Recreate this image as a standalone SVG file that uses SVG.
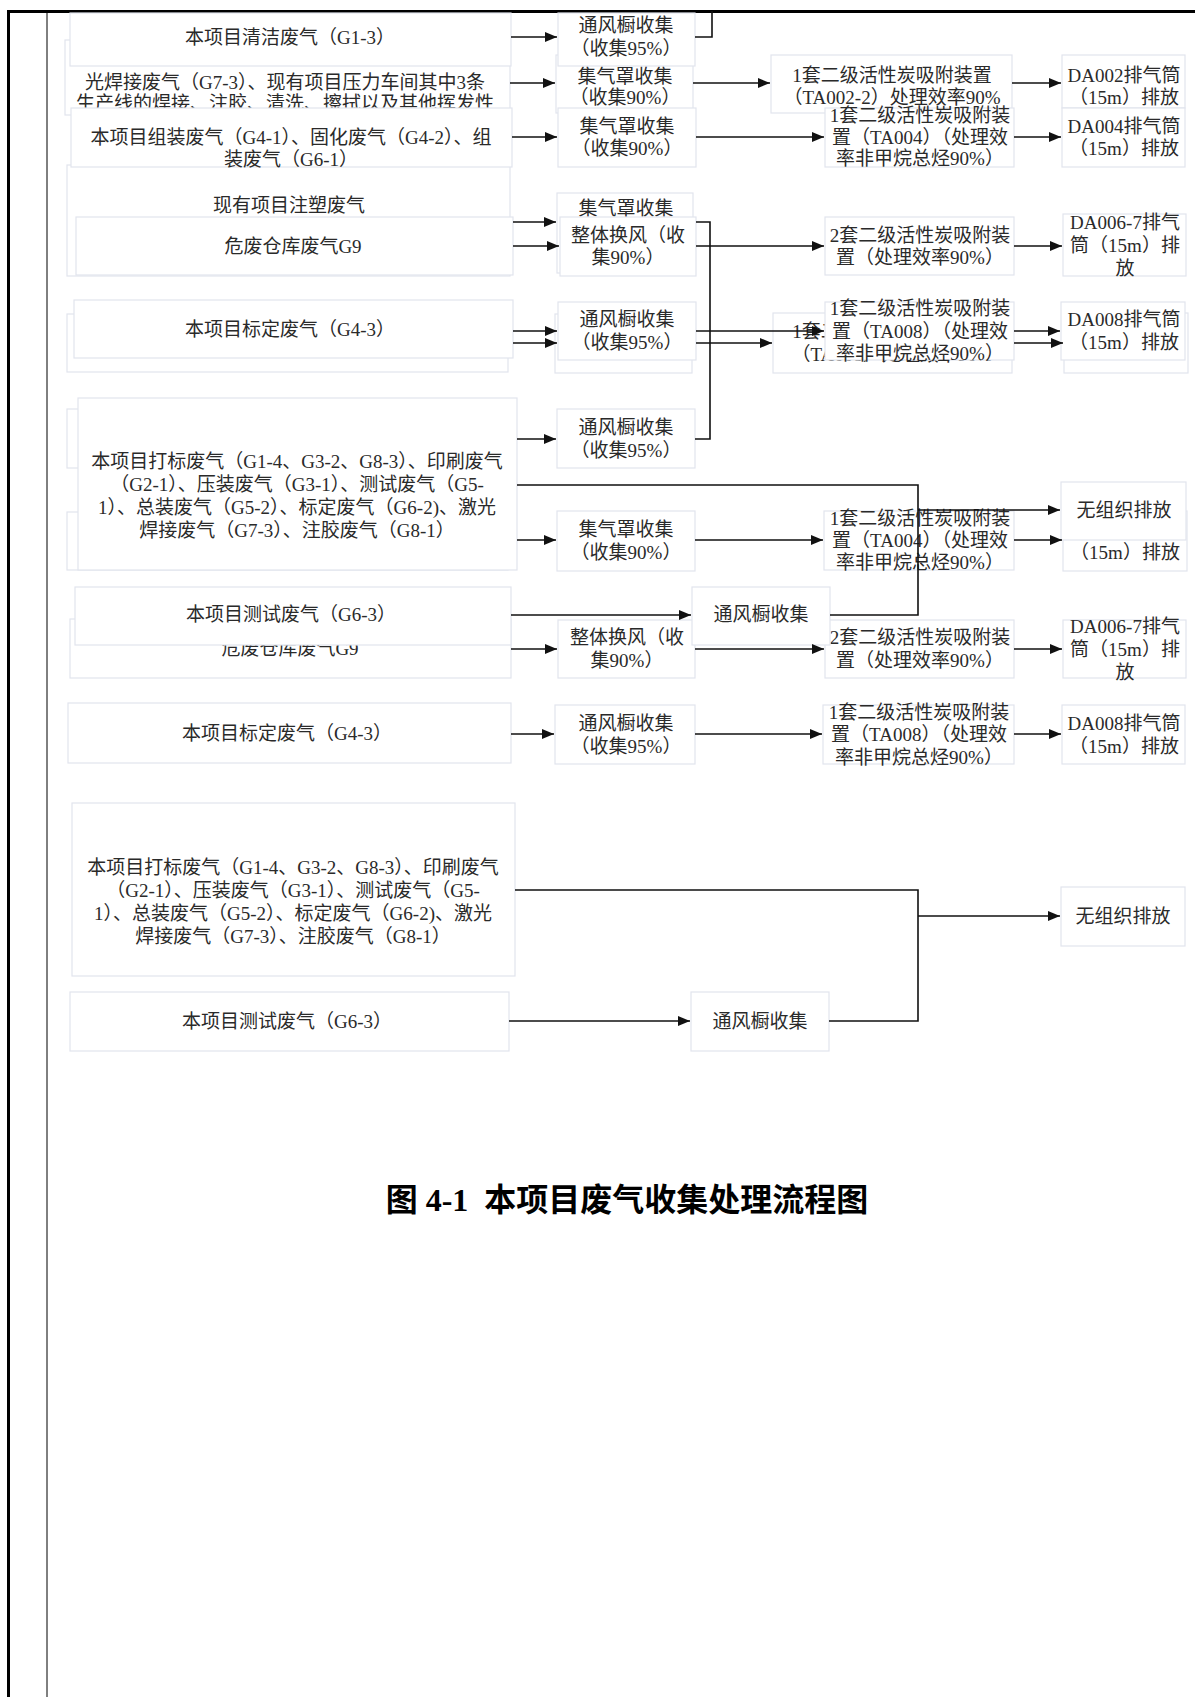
<svg xmlns="http://www.w3.org/2000/svg" width="1195" height="1697" viewBox="0 0 1195 1697">
<style>
.box{fill:#fff;stroke:#e2e4ed;stroke-width:1.2}
.t{font-family:"Liberation Serif","Noto Sans CJK SC",serif;font-size:19px;fill:#2a2a2a;text-anchor:middle;dominant-baseline:central}
.c{fill:none;stroke:#111;stroke-width:1.6}
.a{marker-end:url(#ah)}
.frame{stroke:#000;fill:none}
.title{font-family:"Liberation Serif","Noto Sans CJK SC",serif;font-size:32px;font-weight:bold;fill:#000;text-anchor:middle}
</style>
<defs>
<marker id="ah" viewBox="0 0 12 10" refX="12" refY="5" markerWidth="12" markerHeight="10" markerUnits="userSpaceOnUse" orient="auto"><path d="M0,0 L12,5 L0,10 z" fill="#111"/></marker>
</defs>
<rect width="1195" height="1697" fill="#fff"/>
<g id="frame">
<line class="frame" x1="8.5" y1="10" x2="8.5" y2="1697" stroke-width="3"/>
<line class="frame" x1="7" y1="11.5" x2="1195" y2="11.5" stroke-width="3"/>
<line class="frame" x1="47" y1="11" x2="47" y2="1697" stroke-width="1"/>
</g>

<!-- row 2 (behind) -->
<g id="n_r2_src"><rect class="box" x="65" y="40" width="445" height="75"/><text class="t"><tspan x="285" y="82">光焊接废气（G7-3）、现有项目压力车间其中3条</tspan><tspan x="285" y="103">生产线的焊接、注胶、清洗、擦拭以及其他挥发性</tspan></text></g>
<g id="n_r2_col"><rect class="box" x="556" y="55" width="137" height="58"/><text class="t"><tspan x="625" y="76">集气罩收集</tspan><tspan x="625" y="97">（收集90%）</tspan></text></g>
<g id="n_r2_trt"><rect class="box" x="771" y="55" width="241" height="58"/><text class="t"><tspan x="892" y="75">1套二级活性炭吸附装置</tspan><tspan x="892" y="97">（TA002-2）处理效率90%</tspan></text></g>
<g id="n_r2_out"><rect class="box" x="1062" y="55" width="123" height="53"/><text class="t"><tspan x="1124" y="75">DA002排气筒</tspan><tspan x="1124" y="97">（15m）排放</tspan></text></g>

<!-- row 1 -->
<g id="n_r1_src"><rect class="box" x="70" y="13" width="441" height="53"/><text class="t" x="290" y="37">本项目清洁废气（G1-3）</text></g>
<g id="n_r1_col"><rect class="box" x="558" y="13" width="137" height="53"/><text class="t"><tspan x="626" y="25">通风橱收集</tspan><tspan x="626" y="48">（收集95%）</tspan></text></g>

<!-- row 3 -->
<g id="n_r4_src_back"><rect class="box" x="67" y="165" width="443" height="111"/><text class="t" x="289" y="205">现有项目注塑废气</text></g>
<g id="n_r3_src"><rect class="box" x="71" y="108" width="441" height="59"/><text class="t"><tspan x="291" y="137">本项目组装废气（G4-1）、固化废气（G4-2）、组</tspan><tspan x="291" y="159">装废气（G6-1）</tspan></text></g>
<g id="n_r3_col"><rect class="box" x="558" y="108" width="138" height="59"/><text class="t"><tspan x="627" y="126">集气罩收集</tspan><tspan x="627" y="148">（收集90%）</tspan></text></g>
<g id="n_r3_trt"><rect class="box" x="825" y="108" width="189" height="59"/><text class="t"><tspan x="920" y="115">1套二级活性炭吸附装</tspan><tspan x="920" y="137">置（TA004）（处理效</tspan><tspan x="920" y="158">率非甲烷总烃90%）</tspan></text></g>
<g id="n_r3_out"><rect class="box" x="1062" y="108" width="123" height="59"/><text class="t"><tspan x="1124" y="126">DA004排气筒</tspan><tspan x="1124" y="148">（15m）排放</tspan></text></g>

<!-- row 4 -->
<g id="n_r4_col_back"><rect class="box" x="557" y="193" width="136" height="80"/><text class="t" x="626" y="208">集气罩收集</text></g>
<g id="n_r4_src"><rect class="box" x="76" y="217" width="437" height="58"/><text class="t" x="293" y="246">危废仓库废气G9</text></g>
<g id="n_r4_col"><rect class="box" x="560" y="217" width="136" height="59"/><text class="t"><tspan x="628" y="235">整体换风（收</tspan><tspan x="628" y="257">集90%）</tspan></text></g>
<g id="n_r4_trt"><rect class="box" x="825" y="217" width="189" height="58"/><text class="t"><tspan x="920" y="235">2套二级活性炭吸附装</tspan><tspan x="920" y="257">置（处理效率90%）</tspan></text></g>
<g id="n_r4_out"><rect class="box" x="1063" y="214" width="123" height="62"/><text class="t"><tspan x="1125" y="222">DA006-7排气</tspan><tspan x="1125" y="245">筒（15m）排</tspan><tspan x="1125" y="268">放</tspan></text></g>

<!-- row 5 -->
<g id="n_r5_src_back"><rect class="box" x="67" y="314" width="441" height="58"/></g>
<g id="n_r5_col_back"><rect class="box" x="555" y="314" width="137" height="59"/></g>
<g id="n_r5_trt_back"><rect class="box" x="773" y="313" width="239" height="60"/><text class="t"><tspan x="892" y="331">1套二级活性炭吸附装置</tspan><tspan x="892" y="354">（TA008）处理效率90%</tspan></text></g>
<g id="n_r5_out_back"><rect class="box" x="1064" y="313" width="124" height="60"/></g>
<g id="n_r5_src"><rect class="box" x="74" y="300" width="439" height="58"/><text class="t" x="290" y="329">本项目标定废气（G4-3）</text></g>
<g id="n_r5_col"><rect class="box" x="558" y="302" width="138" height="58"/><text class="t"><tspan x="627" y="319">通风橱收集</tspan><tspan x="627" y="342">（收集95%）</tspan></text></g>
<g id="n_r5_trt"><rect class="box" x="825" y="302" width="189" height="58"/><text class="t"><tspan x="920" y="308">1套二级活性炭吸附装</tspan><tspan x="920" y="331">置（TA008）（处理效</tspan><tspan x="920" y="353">率非甲烷总烃90%）</tspan></text></g>
<g id="n_r5_out"><rect class="box" x="1061" y="302" width="124" height="58"/><text class="t"><tspan x="1124" y="319">DA008排气筒</tspan><tspan x="1124" y="342">（15m）排放</tspan></text></g>

<!-- row 6 -->
<g id="n_r6_src_back1"><rect class="box" x="67" y="409" width="441" height="59"/></g>
<g id="n_r6_src_back2"><rect class="box" x="67" y="512" width="441" height="58"/></g>
<g id="n_r6_out_back"><rect class="box" x="1063" y="511" width="124" height="60"/><text class="t" x="1125" y="552">（15m）排放</text></g>
<g id="n_r6_src"><rect class="box" x="78" y="398" width="439" height="172"/><text class="t"><tspan x="297" y="461">本项目打标废气（G1-4、G3-2、G8-3）、印刷废气</tspan><tspan x="297" y="484">（G2-1）、压装废气（G3-1）、测试废气（G5-</tspan><tspan x="297" y="507">1）、总装废气（G5-2）、标定废气（G6-2)、激光</tspan><tspan x="297" y="530">焊接废气（G7-3）、注胶废气（G8-1）</tspan></text></g>
<g id="n_r6_col1"><rect class="box" x="557" y="409" width="138" height="59"/><text class="t"><tspan x="626" y="427">通风橱收集</tspan><tspan x="626" y="450">（收集95%）</tspan></text></g>
<g id="n_r6_col2"><rect class="box" x="557" y="511" width="138" height="60"/><text class="t"><tspan x="626" y="529">集气罩收集</tspan><tspan x="626" y="552">（收集90%）</tspan></text></g>
<g id="n_r6_trt"><rect class="box" x="824" y="511" width="190" height="59"/><text class="t"><tspan x="920" y="518">1套二级活性炭吸附装</tspan><tspan x="920" y="540">置（TA004）（处理效</tspan><tspan x="920" y="562">率非甲烷总烃90%）</tspan></text></g>
<g id="n_r6_out"><rect class="box" x="1061" y="482" width="125" height="58"/><text class="t" x="1124" y="510">无组织排放</text></g>

<!-- row 7 -->
<g id="n_r7_src_back"><rect class="box" x="70" y="619" width="441" height="59"/><text class="t" x="290" y="648">危废仓库废气G9</text></g>
<g id="n_r7_col2"><rect class="box" x="558" y="620" width="137" height="58"/><text class="t"><tspan x="627" y="637">整体换风（收</tspan><tspan x="627" y="660">集90%）</tspan></text></g>
<g id="n_r7_trt"><rect class="box" x="825" y="620" width="189" height="58"/><text class="t"><tspan x="920" y="637">2套二级活性炭吸附装</tspan><tspan x="920" y="660">置（处理效率90%）</tspan></text></g>
<g id="n_r7_out"><rect class="box" x="1063" y="620" width="123" height="58"/><text class="t"><tspan x="1125" y="626">DA006-7排气</tspan><tspan x="1125" y="649">筒（15m）排</tspan><tspan x="1125" y="672">放</tspan></text></g>
<g id="n_r7_src"><rect class="box" x="75" y="587" width="436" height="58"/><text class="t" x="291" y="614">本项目测试废气（G6-3）</text></g>
<g id="n_r7_col1"><rect class="box" x="692" y="587" width="138" height="58"/><text class="t" x="761" y="614">通风橱收集</text></g>

<!-- row 8 -->
<g id="n_r8_src"><rect class="box" x="68" y="703" width="443" height="60"/><text class="t" x="287" y="733">本项目标定废气（G4-3）</text></g>
<g id="n_r8_col"><rect class="box" x="555" y="705" width="140" height="59"/><text class="t"><tspan x="626" y="723">通风橱收集</tspan><tspan x="626" y="746">（收集95%）</tspan></text></g>
<g id="n_r8_trt"><rect class="box" x="823" y="705" width="191" height="59"/><text class="t"><tspan x="919" y="712">1套二级活性炭吸附装</tspan><tspan x="919" y="734">置（TA008）（处理效</tspan><tspan x="919" y="757">率非甲烷总烃90%）</tspan></text></g>
<g id="n_r8_out"><rect class="box" x="1062" y="705" width="123" height="59"/><text class="t"><tspan x="1124" y="723">DA008排气筒</tspan><tspan x="1124" y="746">（15m）排放</tspan></text></g>

<!-- row 9 -->
<g id="n_r9_src1"><rect class="box" x="72" y="803" width="443" height="173"/><text class="t"><tspan x="293" y="867">本项目打标废气（G1-4、G3-2、G8-3）、印刷废气</tspan><tspan x="293" y="890">（G2-1）、压装废气（G3-1）、测试废气（G5-</tspan><tspan x="293" y="913">1）、总装废气（G5-2）、标定废气（G6-2)、激光</tspan><tspan x="293" y="936">焊接废气（G7-3）、注胶废气（G8-1）</tspan></text></g>
<g id="n_r9_src2"><rect class="box" x="70" y="992" width="439" height="59"/><text class="t" x="287" y="1021">本项目测试废气（G6-3）</text></g>
<g id="n_r9_col"><rect class="box" x="691" y="992" width="138" height="59"/><text class="t" x="760" y="1021">通风橱收集</text></g>
<g id="n_r9_out"><rect class="box" x="1061" y="887" width="124" height="59"/><text class="t" x="1123" y="916">无组织排放</text></g>

<g id="connectors">
<path class="c a" d="M511,37 H557"/>
<path class="c" d="M695,37 H712 V11"/>
<path class="c a" d="M510,83 H555"/>
<path class="c a" d="M693,83 H770"/>
<path class="c a" d="M1012,83 H1061"/>
<path class="c a" d="M512,137 H557"/>
<path class="c a" d="M696,137 H824"/>
<path class="c a" d="M1014,137 H1061"/>
<path class="c a" d="M513,222 H556"/>
<path class="c a" d="M513,246 H559"/>
<path class="c" d="M696,222 H710 V439 H695"/>
<path class="c a" d="M696,246 H824"/>
<path class="c a" d="M1014,246 H1062"/>
<path class="c a" d="M513,331 H557"/>
<path class="c a" d="M513,343 H557"/>
<path class="c a" d="M696,331 H824"/>
<path class="c a" d="M696,343 H772"/>
<path class="c a" d="M1014,331 H1060"/>
<path class="c a" d="M1014,343 H1063"/>
<path class="c a" d="M517,439 H556"/>
<path class="c" d="M517,485 H918 V615 H830"/>
<path class="c a" d="M918,510 H1060"/>
<path class="c a" d="M517,540 H556"/>
<path class="c a" d="M695,540 H823"/>
<path class="c a" d="M1014,540 H1062"/>
<path class="c a" d="M511,615 H691"/>
<path class="c a" d="M511,649 H557"/>
<path class="c a" d="M695,649 H824"/>
<path class="c a" d="M1014,649 H1062"/>
<path class="c a" d="M511,734 H554"/>
<path class="c a" d="M695,734 H822"/>
<path class="c a" d="M1014,734 H1061"/>
<path class="c" d="M515,890 H918 V1021 H829"/>
<path class="c a" d="M918,916 H1060"/>
<path class="c a" d="M509,1021 H690"/>
</g>

<text class="title" x="627" y="1211" xml:space="preserve">图 4-1  本项目废气收集处理流程图</text>
</svg>
